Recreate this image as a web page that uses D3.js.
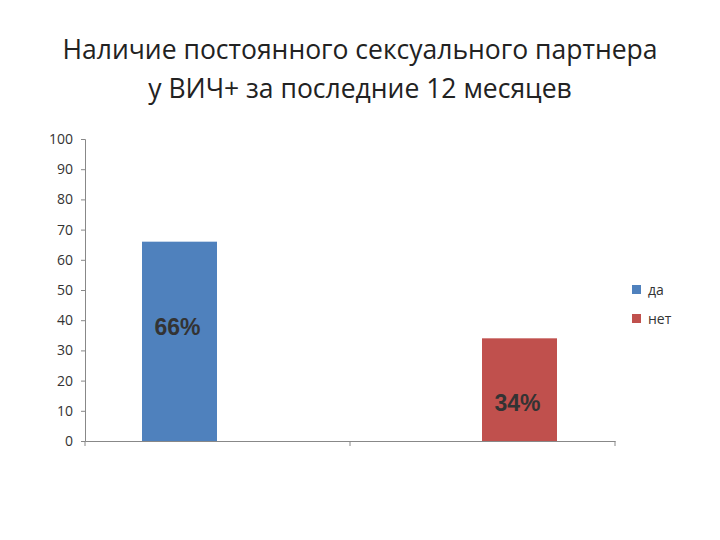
<!DOCTYPE html>
<html><head><meta charset="utf-8">
<script src="https://cdn.jsdelivr.net/npm/d3@7"></script>
<style>body{margin:0;background:#fff}</style></head>
<body><svg id="c" width="720" height="540"></svg>
<script>
const categories = ["1", "2"];
const seriesNames = ["да", "нет"];
const daValues = [66, 0];
const netValues = [0, 34];
const labels = ["66%", "34%"];
const yTicks = [0,10,20,30,40,50,60,70,80,90,100];
const colors = ["#4F81BD", "#C0504D"];

const svg = d3.select("#c");
const font = "'Open Sans', 'Liberation Sans', sans-serif";
svg.append("text").attr("x",360).attr("y",59).attr("text-anchor","middle")
  .attr("font-family",font).attr("font-size",26.5).attr("fill","#222")
  .text("Наличие постоянного сексуального партнера");
svg.append("text").attr("x",360).attr("y",98).attr("text-anchor","middle")
  .attr("font-family",font).attr("font-size",26.5).attr("fill","#222")
  .text("у ВИЧ+ за последние 12 месяцев");

const y = d3.scaleLinear().domain([0,100]).range([441,139]);
const x0 = d3.scaleBand().domain(categories).range([85,615]);
const x1 = d3.scaleBand().domain(seriesNames).range([57,207]);

const yAxis = svg.append("g").attr("transform","translate(85,0)")
  .call(d3.axisLeft(y).tickValues(yTicks).tickSize(4).tickPadding(8));
yAxis.select(".domain").attr("stroke","#888");
yAxis.selectAll("line").attr("stroke","#888");
yAxis.selectAll("text").attr("font-family",font).attr("font-size",14).attr("fill","#333");

const xAxis = svg.append("g").attr("transform","translate(0,441)")
  .call(d3.axisBottom(x0).tickValues([]).tickSizeOuter(0));
xAxis.select(".domain").attr("stroke","#888");
[85,350,615].forEach(v=>svg.append("line").attr("x1",v).attr("x2",v).attr("y1",441).attr("y2",446).attr("stroke","#888"));

const data = categories.map((c,i)=>({c, vals:[daValues[i], netValues[i]]}));
data.forEach((d,i)=>{
  d.vals.forEach((v,j)=>{
    if(!v) return;
    svg.append("rect").attr("x",x0(d.c)+x1(seriesNames[j])).attr("width",x1.bandwidth())
      .attr("y",y(v)).attr("height",y(0)-y(v)).attr("fill",colors[j]);
  });
});
svg.append("text").attr("x",x0("1")+x1("да")+x1.bandwidth()/2-2).attr("y",y(34)-3)
  .attr("text-anchor","middle").attr("font-family","'Liberation Sans',Arial,sans-serif")
  .attr("font-weight","bold").attr("font-size",23).attr("fill","#333").text(labels[0]);
svg.append("text").attr("x",x0("2")+x1("нет")+x1.bandwidth()/2-2).attr("y",y(9)-3)
  .attr("text-anchor","middle").attr("font-family","'Liberation Sans',Arial,sans-serif")
  .attr("font-weight","bold").attr("font-size",23).attr("fill","#333").text(labels[1]);

seriesNames.forEach((s,i)=>{
  svg.append("rect").attr("x",632).attr("y",285+i*29).attr("width",9).attr("height",9).attr("fill",colors[i]);
  svg.append("text").attr("x",648).attr("y",295+i*29).attr("font-family",font)
    .attr("font-size",14).attr("fill","#333").text(s);
});
</script></body></html>
